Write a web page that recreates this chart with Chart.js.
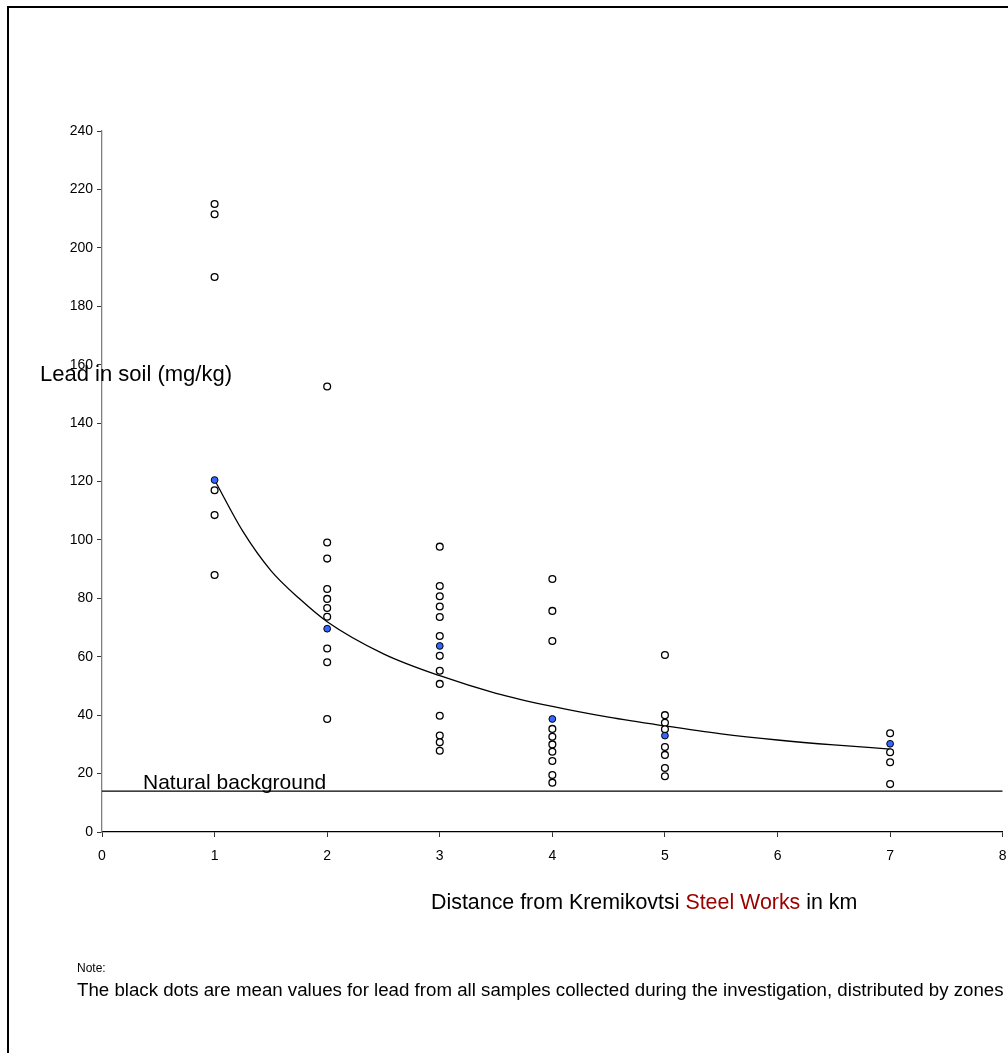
<!DOCTYPE html>
<html>
<head>
<meta charset="utf-8">
<script src="https://cdn.jsdelivr.net/npm/chart.js@4.4.1/dist/chart.umd.min.js"></script>
<style>
  html, body { margin: 0; padding: 0; background: #fff; overflow: hidden; }
  body { width: 1008px; height: 1053px; position: relative; font-family: 'Liberation Sans', Arial, sans-serif; }
  #c { position: absolute; left: 0; top: 0; }
  .frame { position: absolute; left: 7px; top: 6px; width: 1200px; height: 1200px; border-left: 2px solid #000; border-top: 2px solid #000; }
  .t { position: absolute; white-space: nowrap; color: #000; }
</style>
</head>
<body>
<div class="frame"></div>
<canvas id="c" width="1008" height="1053"></canvas>
<div class="t" style="left:40px; top:363px; font-size:22px; line-height:22px;">Lead in soil (mg/kg)</div>
<div class="t" style="left:143px; top:771px; font-size:21px; line-height:21px;">Natural background</div>
<div class="t" style="left:431px; top:892px; font-size:21.4px; line-height:21px;">Distance from Kremikovtsi <span style="color:#990000">Steel Works</span> in km</div>
<div class="t" style="left:77px; top:962px; font-size:12px; line-height:12px;">Note:</div>
<div class="t" style="left:77px; top:981px; font-size:18.7px; line-height:18.5px;">The black dots are mean values for lead from all samples collected during the investigation, distributed by zones</div>
<script>
// ---- data ----
const zoneDistances = [1, 2, 3, 4, 5, 7];
const zone1Samples = [215, 211.5, 190, 117, 108.5, 88];
const zone2Samples = [152.5, 99.1, 93.6, 83.2, 79.8, 76.7, 73.7, 62.8, 58.1, 38.7];
const zone3Samples = [97.7, 84.2, 80.7, 77.2, 73.6, 67.1, 60.3, 55.2, 50.7, 39.8, 33, 30.7, 27.8];
const zone4Samples = [86.6, 75.7, 65.4, 35.3, 32.6, 30, 27.5, 24.3, 19.5, 16.9];
const zone5Samples = [60.6, 40, 37.4, 35.2, 29.1, 26.4, 21.9, 19.1];
const zone7Samples = [33.8, 27.3, 23.9, 16.4];
const zoneMeans = [120.5, 69.6, 63.7, 38.7, 33, 30.2];
const trendDistances = [1, 1.25, 1.5, 1.75, 2, 2.5, 3, 3.5, 4, 4.5, 5, 5.5, 6, 6.5, 7];
const trendValues = [120.5, 103, 89.5, 80, 72, 61, 53.5, 47.5, 43, 39.3, 36.3, 33.6, 31.5, 29.8, 28.4];
const backgroundDistances = [0, 8];
const backgroundValues = [14, 14];
const xTicks = [0, 1, 2, 3, 4, 5, 6, 7, 8];
const yTicks = [0, 20, 40, 60, 80, 100, 120, 140, 160, 180, 200, 220, 240];

// ---- build datasets ----
const allSamples = [zone1Samples, zone2Samples, zone3Samples, zone4Samples, zone5Samples, zone7Samples];
const samplePoints = [];
allSamples.forEach((arr, i) => arr.forEach(v => samplePoints.push({ x: zoneDistances[i], y: v })));
const meanPoints = zoneMeans.map((v, i) => ({ x: zoneDistances[i], y: v }));
const trendPoints = trendValues.map((v, i) => ({ x: trendDistances[i], y: v }));
const bgPoints = backgroundValues.map((v, i) => ({ x: backgroundDistances[i], y: v }));

Chart.defaults.font.family = "'Liberation Sans', Arial, sans-serif";
Chart.defaults.color = '#000';

new Chart(document.getElementById('c'), {
  type: 'scatter',
  data: {
    datasets: [
      { data: meanPoints, order: 0, pointRadius: 3.4, pointBackgroundColor: '#3366FF', pointBorderColor: '#000', pointBorderWidth: 1, showLine: false },
      { data: samplePoints, order: 1, pointRadius: 3.4, pointBackgroundColor: '#fff', pointBorderColor: '#000', pointBorderWidth: 1.3, showLine: false },
      { data: trendPoints, order: 2, showLine: true, pointRadius: 0, borderColor: '#000', borderWidth: 1.3, cubicInterpolationMode: 'monotone', fill: false },
      { data: bgPoints, order: 3, showLine: true, pointRadius: 0, borderColor: '#000', borderWidth: 1.3, fill: false }
    ]
  },
  options: {
    responsive: false,
    animation: false,
    devicePixelRatio: 1,
    layout: { padding: { top: 131, right: 5, left: 0, bottom: 0 } },
    plugins: { legend: { display: false }, tooltip: { enabled: false } },
    scales: {
      x: {
        type: 'linear', min: 0, max: 8,
        afterBuildTicks: s => { s.ticks = xTicks.map(v => ({ value: v })); },
        afterFit: s => { s.height = 221; s.paddingLeft = 0; s.paddingRight = 0; },
        border: { display: true, color: '#000', width: 1.3 },
        grid: { drawOnChartArea: false, drawTicks: true, tickLength: 5, tickColor: '#333', tickWidth: 1 },
        ticks: { padding: 11, font: { size: 14 }, color: '#000', maxRotation: 0 }
      },
      y: {
        type: 'linear', min: 0, max: 240,
        afterBuildTicks: s => { s.ticks = yTicks.map(v => ({ value: v })); },
        afterFit: s => { s.width = 102; s.paddingTop = 0; s.paddingBottom = 0; },
        border: { display: true, color: '#808080', width: 1.3 },
        grid: { drawOnChartArea: false, drawTicks: true, tickLength: 5, tickColor: '#333', tickWidth: 1 },
        ticks: { padding: 4, font: { size: 14 }, color: '#000' }
      }
    }
  }
});
</script>
</body>
</html>
